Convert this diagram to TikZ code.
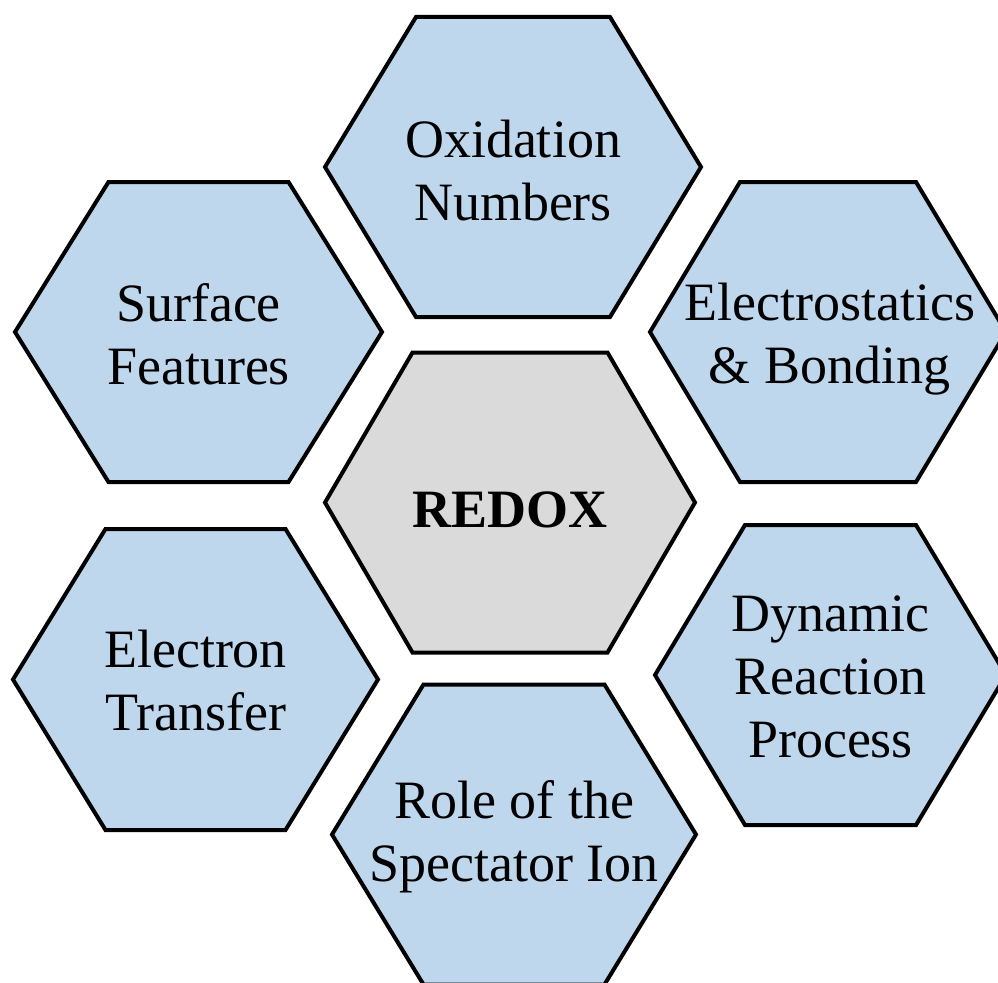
\documentclass[tikz,border=0pt]{standalone}
\usepackage{fontspec}
\setmainfont{Liberation Serif}
\definecolor{hexblue}{RGB}{190,215,237}
\definecolor{hexgray}{RGB}{218,218,218}
\newcommand{\hexshape}[6]{%
  \draw[#6] (#1-#3,#2) -- (#1-#4,#2-#5) -- (#1+#4,#2-#5) -- (#1+#3,#2)
    -- (#1+#4,#2+#5) -- (#1-#4,#2+#5) -- cycle;}
\tikzset{
  hexline/.style={draw=black, line width=4pt, line join=miter},
  bluehex/.style={hexline, fill=hexblue},
  grayhex/.style={hexline, fill=hexgray},
  hextext/.style={align=center, inner sep=0pt, text=black,
    font=\fontsize{54}{63}\selectfont},
  centertext/.style={hextext, font=\fontsize{54}{63}\selectfont\bfseries}
}
\begin{document}
\begin{tikzpicture}[x=1pt,y=-1pt]
\useasboundingbox (0,0) rectangle (998,982);
\clip (0,0) rectangle (998,982);
\fill[white] (0,0) rectangle (998,982);
% hexagons
\hexshape{513}{167}{188}{97}{150}{bluehex}
\hexshape{198.5}{332}{183.5}{90}{150}{bluehex}
\hexshape{828}{332}{178}{88}{150}{bluehex}
\hexshape{510}{502.5}{185}{97.5}{150}{grayhex}
\hexshape{195.5}{679.5}{182.5}{90}{150.5}{bluehex}
\hexshape{514}{834.5}{182}{90.5}{150}{bluehex}
\hexshape{830.5}{675}{175.5}{85.5}{150}{bluehex}
% labels
\node[hextext] (oxid) at (513,171) {Oxidation\\Numbers};
\node[hextext] (surf) at (198.5,334) {Surface\\Features};
\node[hextext] (elec) at (829.5,339) {Electrostatics\\\& Bonding};
\node[centertext] (redox) at (510,510) {REDOX};
\node[hextext] (etra) at (195.5,681) {Electron\\Transfer};
\node[hextext] (role) at (514,837) {Role of the\\Spectator Ion};
\node[hextext] (dyn) at (830.5,677) {Dynamic\\Reaction\\Process};
\end{tikzpicture}
\end{document}
